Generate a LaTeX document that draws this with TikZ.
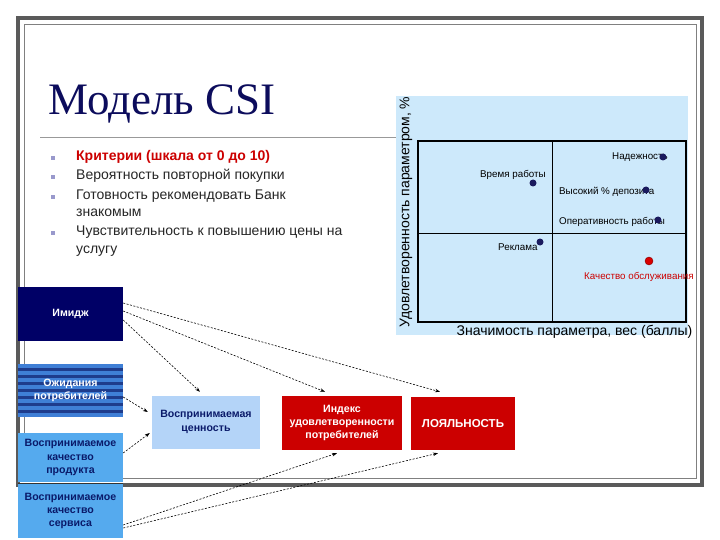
\documentclass[tikz,border=0pt]{standalone}
\usepackage{fontspec}
\setmainfont{Liberation Sans}
\newfontfamily\titlefont{Liberation Serif}
\usetikzlibrary{arrows.meta}
\definecolor{framegray}{HTML}{5A5A5A}
\definecolor{thingray}{HTML}{808080}
\definecolor{titlenavy}{HTML}{0C0C5C}
\definecolor{imnavy}{HTML}{000066}
\definecolor{skyb}{HTML}{55AAEE}
\definecolor{lightb}{HTML}{B4D4F8}
\definecolor{boxred}{HTML}{CC0000}
\definecolor{chartbg}{HTML}{CDE9FB}
\definecolor{bulletc}{HTML}{9999CC}
\definecolor{textnavy}{HTML}{0A1A6A}
\definecolor{stripedark}{HTML}{1E3C8C}
\definecolor{stripelight}{HTML}{3F7FD6}
\definecolor{marknavy}{HTML}{1A1A5E}
\begin{document}
\begin{tikzpicture}[x=1pt,y=-1pt,
  boxbase/.style={rectangle,inner sep=2pt,align=center,font=\fontsize{10.6}{13.2}\selectfont\bfseries},
  navybox/.style={boxbase,fill=imnavy,text=white},
  skybox/.style={boxbase,fill=skyb,text=textnavy},
  lightbox/.style={boxbase,fill=lightb,text=textnavy},
  redbox/.style={boxbase,fill=boxred,text=white},
  dasharrow/.style={draw=black,line width=0.6pt,dash pattern=on 2pt off 1.5pt,-{Stealth[length=5pt,width=3.5pt]}},
  bul/.style={anchor=west,inner sep=0pt,text height=9pt,text depth=3pt,font=\fontsize{14}{16}\selectfont,text=black!85},
  ptlabel/.style={anchor=west,inner sep=0pt,font=\fontsize{9.8}{11}\selectfont},
  ptmark/.style={circle,fill=marknavy,inner sep=0pt,minimum size=7pt}
]
\useasboundingbox (0,0) rectangle (720,540);
\fill[white] (0,0) rectangle (720,540);
% frame
\draw[framegray,line width=4pt] (18,18) rectangle (702,485);
\draw[thingray,line width=0.8pt] (24,24) rectangle (696,478);
% title
\node[anchor=base west,inner sep=0pt,text=titlenavy,font=\titlefont\fontsize{45}{50}\selectfont] (title) at (48,115) {Модель CSI};
\draw[gray!80,line width=0.8pt] (40,137) -- (396,137);
% bullets
\foreach \yy in {158,177,197,233} {\fill[bulletc] (51,\yy-2) rectangle (55,\yy+2);}
\node[bul,text=boxred,font=\fontsize{14}{16}\selectfont\bfseries] (b1) at (76,158) {Критерии (шкала от 0 до 10)};
\node[bul] (b2) at (76,177) {Вероятность повторной покупки};
\node[bul] (b3) at (76,197) {Готовность рекомендовать Банк};
\node[bul] (b3b) at (76,214) {знакомым};
\node[bul] (b4) at (76,233) {Чувствительность к повышению цены на};
\node[bul] (b4b) at (76,250) {услугу};
% chart
\fill[chartbg] (396,96) rectangle (688,335);
\draw[black,line width=1.3pt] (418,141) rectangle (686,322);
\draw[black,line width=1pt] (552,141) -- (552,322);
\draw[black,line width=1pt] (418,233) -- (686,233);
\node[rotate=90,inner sep=0pt,font=\fontsize{14}{16}\selectfont] (ylab) at (406,212) {Удовлетворенность параметром, \%};
\node[inner sep=0pt,font=\fontsize{14}{16}\selectfont] (xlab) at (574.5,332) {Значимость параметра, вес (баллы)};
\node[ptlabel] (l1) at (612,157) {Надежность};
\node[ptlabel] (l2) at (480,175) {Время работы};
\node[ptlabel] (l3) at (559,192) {Высокий \% депозита};
\node[ptlabel] (l4) at (559,222) {Оперативность работы};
\node[ptlabel] (l5) at (498,247) {Реклама};
\node[ptlabel,text=boxred] (l6) at (584,277) {Качество обслуживания};
\node[ptmark] (m1) at (663,157) {};
\node[ptmark] (m2) at (533,183) {};
\node[ptmark] (m3) at (646,190) {};
\node[ptmark] (m4) at (658,220) {};
\node[ptmark] (m5) at (540,242) {};
\node[circle,fill=red!85!black,draw=red!50!black,inner sep=0pt,minimum size=8pt] (m6) at (649,261) {};
% left boxes
\node[navybox,minimum width=105pt,minimum height=54pt] (imidzh) at (70.5,314) {Имидж};
\fill[stripedark] (18,364) rectangle (123,417);
\foreach \i in {0,...,7} {\fill[stripelight] (18,364+\i*7) rectangle (123,367.5+\i*7);}
\node[boxbase,text=white,minimum width=105pt,minimum height=53pt] (ozh) at (70.5,390.5) {Ожидания\\потребителей};
\node[skybox,minimum width=105pt,minimum height=49pt] (prod) at (70.5,457.5) {Воспринимаемое\\качество\\продукта};
\node[skybox,minimum width=105pt,minimum height=54pt] (serv) at (70.5,511) {Воспринимаемое\\качество\\сервиса};
\draw[black!80,line width=1pt] (serv.north west) -- (serv.north east);
% right boxes
\node[lightbox,minimum width=108pt,minimum height=53pt] (cen) at (206,422) {Воспринимаемая\\ценность};
\node[redbox,minimum width=120pt,minimum height=54pt] (index) at (342,423) {Индекс\\удовлетворенности\\потребителей};
\node[redbox,minimum width=104pt,minimum height=53pt,font=\fontsize{11.5}{13.5}\selectfont\bfseries] (loyal) at (463,423.5) {ЛОЯЛЬНОСТЬ};
% arrows
\draw[dasharrow] ([yshift=11pt]imidzh.east) -- ([xshift=-23pt,yshift=5pt]loyal.north);
\draw[dasharrow] ([yshift=3pt]imidzh.east) -- ([xshift=-17pt,yshift=4pt]index.north);
\draw[dasharrow] ([yshift=-6pt]imidzh.east) -- ([xshift=-6pt,yshift=3.5pt]cen.north);
\draw[dasharrow] ([yshift=-6.5pt]ozh.east) -- ([xshift=-4pt,yshift=10pt]cen.west);
\draw[dasharrow] ([yshift=4.5pt]prod.east) -- ([xshift=-2pt,yshift=-11pt]cen.west);
\draw[dasharrow] ([yshift=-14pt]serv.east) -- ([xshift=-5pt,yshift=-3pt]index.south);
\draw[dasharrow] ([yshift=-17pt]serv.east) -- ([xshift=-25pt,yshift=-3pt]loyal.south);
\end{tikzpicture}
\end{document}
